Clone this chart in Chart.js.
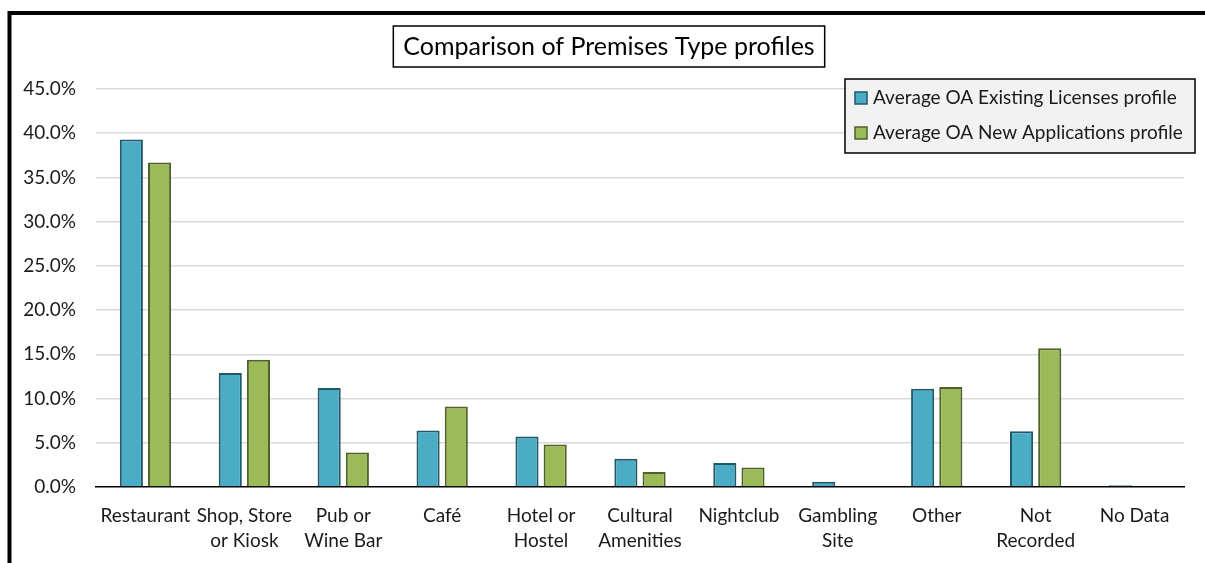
<!DOCTYPE html>
<html>
<head>
<meta charset="utf-8">
<script src="https://cdn.jsdelivr.net/npm/chart.js@4"></script>
<style>
  html, body { margin: 0; padding: 0; background: #fff; }
  #wrap { width: 1205px; height: 563px; position: relative; }
</style>
</head>
<body>
<div id="wrap"><canvas id="premisesChart"></canvas></div>
<script>
// Premises type share per output area (percent)
const premisesTypes = [
    ['Restaurant'], ['Shop, Store', 'or Kiosk'], ['Pub or', 'Wine Bar'], ['Café'],
    ['Hotel or', 'Hostel'], ['Cultural', 'Amenities'], ['Nightclub'], ['Gambling', 'Site'],
    ['Other'], ['Not', 'Recorded'], ['No Data']
];
const existingLicenses = [39.3, 12.9, 11.2, 6.4, 5.7, 3.2, 2.7, 0.6, 11.1, 6.3, 0.2];
const newApplications = [36.7, 14.4, 3.9, 9.1, 4.8, 1.7, 2.2, 0, 11.3, 15.7, 0];
const seriesNames = ['Average OA Existing Licenses profile', 'Average OA New Applications profile'];
const chartTitle = 'Comparison of Premises Type profiles';

const FONT = 'Lato, "Open Sans", sans-serif';

// outer frame + white background
const framePlugin = {
    id: 'frame',
    beforeDraw(chart) {
        const c = chart.ctx;
        c.save();
        c.fillStyle = '#fff';
        c.fillRect(0, 0, chart.width, chart.height);
        c.strokeStyle = '#000';
        c.lineWidth = 4;
        c.beginPath();
        c.moveTo(9.5, chart.height);
        c.lineTo(9.5, 13);
        c.lineTo(chart.width, 13);
        c.stroke();
        c.restore();
    }
};

// boxed title
const boxedTitle = {
    id: 'boxedTitle',
    afterDraw(chart) {
        const c = chart.ctx;
        c.save();
        c.font = '25px ' + FONT;
        const w = c.measureText(chartTitle).width;
        const cx = 609, cy = 47;
        const bx = cx - w / 2 - 10, bw = w + 20;
        c.fillStyle = '#fff';
        c.fillRect(bx, 26, bw, 41);
        c.strokeStyle = '#000';
        c.lineWidth = 1.5;
        c.strokeRect(bx, 26, bw, 41);
        c.fillStyle = '#000';
        c.textAlign = 'center';
        c.textBaseline = 'middle';
        c.fillText(chartTitle, cx, cy);
        c.restore();
    }
};

// legend box in the top right corner
const boxedLegend = {
    id: 'boxedLegend',
    afterDraw(chart) {
        const c = chart.ctx;
        const x = 845, y = 79, w = 350, h = 74;
        c.save();
        c.fillStyle = '#f2f2f2';
        c.fillRect(x, y, w, h);
        c.strokeStyle = '#000';
        c.lineWidth = 1.5;
        c.strokeRect(x, y, w, h);
        c.font = '19px ' + FONT;
        c.textBaseline = 'middle';
        chart.data.datasets.forEach((ds, i) => {
            const ry = 98 + i * 35;
            c.fillStyle = ds.backgroundColor;
            c.fillRect(855, ry - 6, 12, 12);
            c.strokeStyle = ds.borderColor;
            c.lineWidth = 1.5;
            c.strokeRect(855, ry - 6, 12, 12);
            c.fillStyle = '#1a1a1a';
            c.fillText(ds.label, 873, ry);
        });
        c.restore();
    }
};

new Chart(document.getElementById('premisesChart'), {
    type: 'bar',
    data: {
        labels: premisesTypes,
        datasets: [{
            label: seriesNames[0],
            data: existingLicenses,
            backgroundColor: '#4bacc6',
            borderColor: '#215968',
            borderWidth: 2,
            categoryPercentage: 0.57,
            barPercentage: 0.82
        }, {
            label: seriesNames[1],
            data: newApplications,
            backgroundColor: '#9bbb59',
            borderColor: '#4f6228',
            borderWidth: 2,
            categoryPercentage: 0.57,
            barPercentage: 0.82
        }]
    },
    options: {
        responsive: true,
        maintainAspectRatio: false,
        animation: false,
        layout: { padding: { top: 89, left: 0, right: 21, bottom: 0 } },
        plugins: {
            legend: { display: false },
            title: { display: false },
            tooltip: { enabled: false }
        },
        scales: {
            y: {
                min: 0,
                max: 45,
                ticks: {
                    stepSize: 5,
                    padding: 20,
                    color: '#1a1a1a',
                    font: { family: FONT, size: 19 },
                    callback: v => v.toFixed(1) + '%'
                },
                grid: {
                    drawTicks: false,
                    lineWidth: 1.5,
                    color: ctx => ctx.tick && ctx.tick.value === 0 ? 'transparent' : '#d9d9d9'
                },
                border: { display: false },
                afterFit(scale) { scale.width = 96; }
            },
            x: {
                ticks: {
                    padding: 9,
                    color: '#1a1a1a',
                    maxRotation: 0,
                    autoSkip: false,
                    font: { family: FONT, size: 19, lineHeight: 1.3 }
                },
                grid: { display: false },
                border: { display: true, color: '#000', width: 1.5 },
                afterFit(scale) { scale.height = 76; }
            }
        }
    },
    plugins: [framePlugin, boxedTitle, boxedLegend]
});
</script>
</body>
</html>
